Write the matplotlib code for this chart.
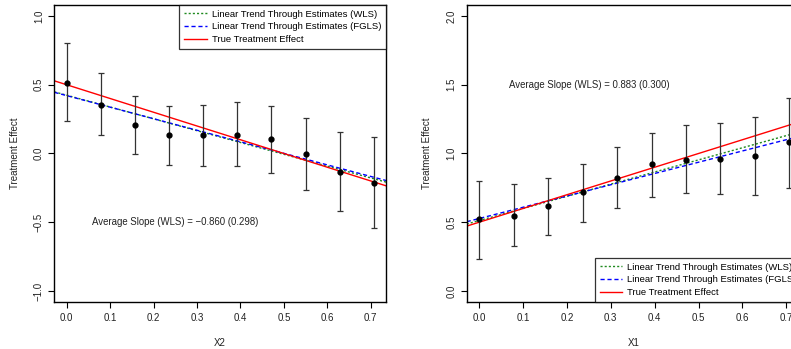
import numpy as np
import matplotlib
matplotlib.use('Agg')
import matplotlib.pyplot as plt

plt.rcParams['font.family'] = ['Liberation Sans', 'DejaVu Sans']

# grid of evaluation points (same for both panels)
x_pts = [0.0, 0.0786, 0.157, 0.236, 0.314, 0.393, 0.471, 0.550, 0.628, 0.707]

# left panel: effect of X2
est_x2 = [0.516, 0.354, 0.209, 0.131, 0.131, 0.138, 0.102, -0.007, -0.131, -0.215]
hi_x2 = [0.803, 0.585, 0.417, 0.347, 0.352, 0.374, 0.345, 0.255, 0.153, 0.119]
lo_x2 = [0.233, 0.134, -0.002, -0.082, -0.092, -0.089, -0.143, -0.264, -0.419, -0.545]
wls_x2 = (0.424, -0.860)
fgls_x2 = (0.421, -0.840)
true_x2 = (0.5, -1.0)

# right panel: effect of X1
est_x1 = [0.523, 0.549, 0.615, 0.719, 0.825, 0.920, 0.954, 0.961, 0.985, 1.080]
hi_x1 = [0.801, 0.775, 0.825, 0.927, 1.049, 1.148, 1.204, 1.223, 1.269, 1.405]
lo_x1 = [0.234, 0.329, 0.406, 0.501, 0.603, 0.683, 0.714, 0.702, 0.700, 0.748]
wls_x1 = (0.512, 0.883)
fgls_x1 = (0.527, 0.819)
true_x1 = (0.5, 1.0)

fig = plt.figure(figsize=(7.91, 3.49), dpi=100)
ax1 = fig.add_axes([0.0687, 0.1347, 0.4193, 0.851])
ax2 = fig.add_axes([0.590, 0.1347, 0.4235, 0.851])


def panel(ax, est, lo, hi, wls, fgls, true, xlabel, ylim, yticks, note, note_y, legend_loc):
    x = np.array(x_pts)
    est = np.array(est)
    ax.errorbar(x, est, yerr=[est - np.array(lo), np.array(hi) - est], fmt='o',
                color='black', ecolor='#333333', elinewidth=0.9, capsize=2.5,
                capthick=0.9, markersize=3.5, zorder=3)
    ax.axline((0, wls[0]), slope=wls[1], color='#1f8a1f', ls=(0, (1.5, 1.5)), lw=1,
              label='Linear Trend Through Estimates (WLS)')
    ax.axline((0, fgls[0]), slope=fgls[1], color='blue', ls=(0, (3, 2)), lw=1,
              label='Linear Trend Through Estimates (FGLS)')
    ax.axline((0, true[0]), slope=true[1], color='red', lw=1, label='True Treatment Effect')
    ax.set_xlim(-0.0283, 0.735)
    ax.set_ylim(*ylim)
    ax.set_xticks(np.arange(0, 0.71, 0.1))
    ax.set_yticks(yticks)
    ax.tick_params(labelsize=7, length=4.5, width=0.8, color='black', labelcolor='#222222')
    ax.tick_params(axis='y', labelrotation=90, pad=3)
    for lab in ax.get_yticklabels():
        lab.set_va('center')
    for s in ax.spines.values():
        s.set_linewidth(1)
    ax.set_xlabel(xlabel, fontsize=7, labelpad=10.5, color='#222222')
    ax.set_ylabel('Treatment Effect', fontsize=7, labelpad=10, color='#222222')
    ax.text(0.25, note_y, note, fontsize=6.9, ha='center', va='center', color='#222222')
    leg = ax.legend(loc=legend_loc, fontsize=6.8, frameon=True, fancybox=False,
                    borderaxespad=0, handlelength=2.4, handletextpad=0.55,
                    labelspacing=0.4, borderpad=0.5)
    leg.get_frame().set_edgecolor('black')
    leg.get_frame().set_linewidth(0.9)


panel(ax1, est_x2, lo_x2, hi_x2, wls_x2, fgls_x2, true_x2, 'X2',
      (-1.08, 1.08), [-1.0, -0.5, 0.0, 0.5, 1.0],
      'Average Slope (WLS) = \u22120.860 (0.298)', -0.5, 'upper right')
panel(ax2, est_x1, lo_x1, hi_x1, wls_x1, fgls_x1, true_x1, 'X1',
      (-0.08, 2.08), [0.0, 0.5, 1.0, 1.5, 2.0],
      'Average Slope (WLS) = 0.883 (0.300)', 1.5, 'lower right')

fig.savefig('out.png', dpi=100)
